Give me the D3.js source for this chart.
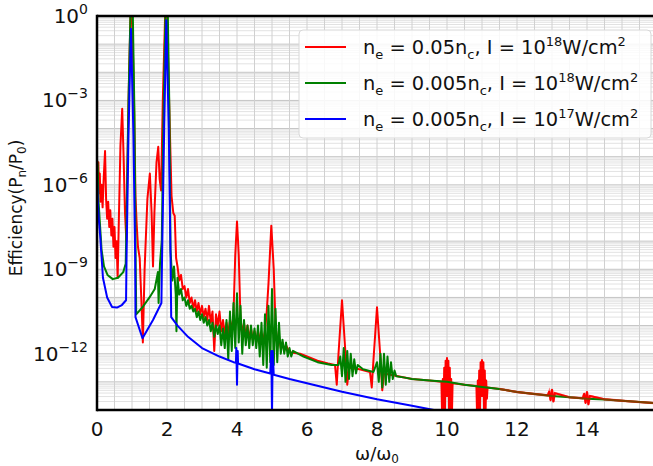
<!DOCTYPE html>
<html>
<head>
<meta charset="utf-8">
<script src="https://cdn.jsdelivr.net/npm/d3@7"></script>
<style>
  body { margin: 0; background: #fff; }
  text { font-family: "DejaVu Sans", sans-serif; fill: #111; }
</style>
</head>
<body>
<div id="chart"></div>
<script>
// x = omega/omega0, values stored as log10(P_n/P_0)
const redX = [0.00,0.02,0.04,0.06,0.08,0.10,0.13,0.16,0.19,0.23,0.26,0.29,0.32,0.35,0.38,0.41,0.44,0.47,0.50,0.53,0.56,0.59,0.62,0.67,0.72,0.76,0.80,0.84,0.86,0.91,0.96,1.00,1.05,1.10,1.13,1.17,1.22,1.28,1.31,1.36,1.44,1.51,1.56,1.60,1.64,1.70,1.75,1.79,1.83,1.88,1.95,2.00,2.06,2.13,2.18,2.22,
  2.26,2.30,2.35,2.40,2.45,2.50,2.55,2.60,2.65,2.70,2.75,2.80,2.85,2.90,2.95,3.00,3.05,3.10,3.15,3.20,3.25,3.30,3.35,3.40,3.45,3.50,3.55,3.60,3.65,3.70,3.75,3.80,3.85,3.90,3.95,4.00,4.05,
  4.10,4.15,4.20,4.25,4.30,4.35,4.40,4.45,4.50,4.55,4.60,4.65,4.70,4.75,4.80,4.85,4.90,4.98,5.05,5.10,5.15,5.20,5.25,5.30,5.35,5.40,5.50,5.80,6.00,6.30,6.60,6.80,6.85,6.90,7.00,7.10,7.15,7.20,7.50,7.80,7.85,7.90,8.00,8.10,8.15,8.20,8.60,9.00,9.50,
  9.84,9.86,9.88,9.90,9.92,9.94,9.96,9.98,10.00,10.02,10.04,10.06,10.08,10.10,10.12,10.14,10.16,10.50,
  10.84,10.86,10.88,10.90,10.92,10.94,10.96,10.98,11.00,11.02,11.04,11.06,11.08,11.10,11.12,11.14,11.16,11.50,12.00,12.50,12.88,12.92,12.96,13.00,13.04,13.08,13.50,13.88,13.92,13.96,14.00,14.04,14.08,14.50,15.00,15.50,16.00];
const redExp = [-5.5,-6.0,-5.2,-6.3,-5.6,-6.6,-6.0,-6.8,-5.8,-4.8,-6.5,-7.2,-6.6,-7.5,-6.9,-7.8,-7.2,-8.2,-7.5,-8.6,-8.0,-9.3,-7.5,-4.6,-3.3,-5.0,-7.0,-8.0,-6.0,-2.5,0.2,0.2,-2.5,-6.4,-7.3,-8.2,-8.6,-10.5,-11.6,-9.0,-6.5,-5.6,-7.0,-8.9,-7.0,-5.2,-4.65,-5.8,-6.2,-3.0,0.2,0.2,-3.0,-6.4,-7.0,-7.1,
  -8.6,-8.9,-9.4,-9.2,-9.7,-9.6,-10.0,-9.7,-10.2,-10.0,-10.4,-10.1,-10.5,-10.2,-10.6,-10.3,-10.7,-10.4,-10.8,-10.3,-10.9,-10.5,-11.9,-10.6,-11.0,-10.5,-11.2,-10.8,-11.3,-10.9,-11.3,-10.8,-11.2,-10.6,-8.5,-7.3,-8.5,
  -10.8,-11.3,-10.9,-11.4,-11.0,-11.5,-11.1,-11.5,-11.2,-11.6,-11.2,-11.5,-11.3,-11.5,-11.2,-10.5,-9.5,-7.45,-9.0,-11.0,-11.6,-11.4,-11.8,-11.6,-11.9,-11.7,-11.95,-12.0,-12.1,-12.25,-12.35,-12.4,-13.1,-12.0,-10.1,-12.0,-13.1,-12.5,-12.55,-12.65,-13.2,-12.2,-10.35,-12.2,-13.3,-12.7,-12.8,-12.9,-12.95,
  -13.0,-14.2,-12.9,-14.2,-12.5,-14.2,-12.25,-13.5,-12.15,-13.5,-12.25,-14.2,-12.5,-14.2,-12.9,-14.2,-13.05,-13.1,
  -13.15,-14.2,-12.95,-14.2,-12.6,-14.2,-12.3,-13.5,-12.22,-13.5,-12.3,-14.2,-12.6,-14.2,-12.95,-13.6,-13.2,-13.25,-13.36,-13.43,-13.48,-13.35,-13.65,-13.28,-13.7,-13.4,-13.55,-13.58,-13.42,-13.75,-13.36,-13.8,-13.5,-13.62,-13.67,-13.72,-13.76];

const greenX = [0.00,0.02,0.04,0.08,0.13,0.20,0.30,0.45,0.60,0.75,0.82,0.84,0.90,0.96,1.02,1.07,1.10,1.12,1.30,1.50,1.65,1.74,1.76,1.80,1.85,1.90,1.96,2.02,2.07,
  2.10,2.15,2.20,2.25,2.27,2.30,2.35,2.40,2.45,2.50,2.55,2.60,2.65,2.70,2.75,2.80,2.85,2.90,2.95,3.00,3.05,3.10,3.15,3.20,3.25,3.30,3.35,3.40,3.45,3.50,3.55,3.60,3.65,3.70,3.75,3.80,3.85,3.90,3.95,4.00,
  4.05,4.10,4.15,4.20,4.25,4.30,4.35,4.40,4.45,4.50,4.55,4.60,4.65,4.70,4.75,4.80,4.85,4.90,4.95,5.00,5.05,5.10,5.15,5.20,5.25,5.30,5.35,5.40,5.45,5.50,5.55,5.60,
  5.90,6.30,6.70,6.90,6.95,7.00,7.05,7.10,7.15,7.20,7.25,7.30,7.35,7.40,7.45,7.60,7.90,8.00,8.05,8.10,8.15,8.20,8.25,8.30,8.35,8.40,8.45,8.50,8.55,8.80,9.00,9.50,10.00,10.50,11.00,11.50,12.00,12.50,13.00,13.50,14.00,14.50,15.00,15.50,16.00];
const greenExp = [-5.1,-5.3,-6.5,-7.3,-8.3,-8.9,-9.2,-9.35,-9.3,-9.1,-8.8,-7.5,-3.0,0.3,0.3,-3.5,-8.0,-10.6,-10.35,-10.0,-9.7,-9.1,-10.2,-8.8,-8.0,-3.5,0.3,0.3,-3.5,
  -8.3,-9.4,-8.9,-9.9,-11.2,-9.3,-9.9,-9.7,-10.1,-10.0,-10.3,-10.1,-10.4,-10.3,-10.5,-10.4,-10.7,-10.5,-10.8,-10.6,-10.9,-10.7,-11.0,-10.8,-11.2,-10.9,-11.4,-11.0,-11.3,-11.0,-11.7,-11.1,-11.8,-10.8,-12.2,-10.5,-11.9,-10.2,-11.8,-9.85,
  -11.6,-10.3,-12.0,-10.8,-11.7,-11.0,-11.8,-11.0,-11.7,-11.1,-11.8,-11.0,-12.1,-10.9,-12.4,-10.6,-12.5,-10.3,-12.3,-9.7,-12.4,-10.4,-12.3,-10.9,-12.0,-11.5,-12.0,-11.6,-12.1,-11.8,-12.1,-11.9,
  -12.1,-12.3,-12.4,-12.4,-12.1,-12.8,-11.8,-13.0,-11.9,-12.9,-12.0,-12.8,-12.2,-12.7,-12.4,-12.55,-12.65,-12.3,-13.0,-12.0,-13.2,-12.0,-13.1,-12.1,-13.0,-12.3,-12.9,-12.6,-12.8,-12.85,-12.9,-12.95,-13.0,-13.1,-13.18,-13.25,-13.36,-13.43,-13.5,-13.55,-13.6,-13.63,-13.67,-13.72,-13.76];

const blueX = [0.00,0.02,0.05,0.09,0.17,0.29,0.43,0.57,0.71,0.83,0.845,0.90,0.97,1.04,1.09,1.10,1.30,1.60,1.84,1.86,1.92,1.98,2.05,2.10,2.12,2.30,2.60,3.00,3.50,3.90,3.97,3.98,4.00,4.02,4.03,4.50,4.95,4.98,5.00,5.02,5.05,5.50,6.00,7.00,8.00,9.00,9.70];
const blueExp = [-5.8,-6.5,-7.2,-7.8,-9.3,-10.0,-10.34,-10.36,-10.27,-10.1,-8.5,-4.2,-0.45,-4.2,-8.5,-10.7,-11.45,-10.8,-10.2,-8.5,-4.0,-0.15,-4.0,-8.5,-10.7,-11.0,-11.4,-11.8,-12.1,-12.3,-12.32,-11.8,-13.1,-11.9,-12.35,-12.55,-12.7,-11.9,-14.2,-11.9,-12.75,-12.9,-13.05,-13.35,-13.62,-13.85,-14.02];

const seriesNames = ["red", "green", "blue"];
const seriesColors = ["#ff0000", "#008000", "#0000ff"];
const xTicks = [0, 2, 4, 6, 8, 10, 12, 14];
const yTickExps = [0, -3, -6, -9, -12];

const width = 653, height = 466;
const margin = { left: 97, top: 16, bottom: 56 };
const plotRight = 657; // x = 16 sits just past the window edge

const svg = d3.select("#chart").append("svg")
  .attr("width", width).attr("height", height);

const x = d3.scaleLinear().domain([0, 16]).range([margin.left, plotRight]);
const y = d3.scaleLog().domain([1e-14, 1]).range([height - margin.bottom, margin.top]);

// grid
const grid = svg.append("g");
const yMinor = [];
for (let e = -14; e < 0; e++) {
  for (let k = 2; k <= 9; k++) yMinor.push(k * Math.pow(10, e));
}
grid.selectAll("line.ym").data(yMinor).enter().append("line")
  .attr("x1", x(0)).attr("x2", plotRight)
  .attr("y1", d => y(d)).attr("y2", d => y(d))
  .attr("stroke", "#e2e2e2").attr("stroke-width", 1);
const yMajor = d3.range(-14, 1).map(e => Math.pow(10, e));
grid.selectAll("line.yM").data(yMajor).enter().append("line")
  .attr("x1", x(0)).attr("x2", plotRight)
  .attr("y1", d => y(d)).attr("y2", d => y(d))
  .attr("stroke", "#c4c4c4").attr("stroke-width", 1);
grid.selectAll("line.xg").data(d3.range(0.5, 16, 0.5)).enter().append("line")
  .attr("x1", d => x(d)).attr("x2", d => x(d))
  .attr("y1", y(1e-14)).attr("y2", y(1))
  .attr("stroke", "#d0d0d0").attr("stroke-width", 1);

// clip
svg.append("clipPath").attr("id", "clip").append("rect")
  .attr("x", x(0)).attr("y", y(1))
  .attr("width", plotRight - x(0)).attr("height", y(1e-14) - y(1));

const line = d3.line()
  .x(d => x(d[0]))
  .y(d => y(Math.pow(10, d[1])));

const zipPts = (xs, es) => xs.map((v, i) => [v, es[i]]);
const redPts = zipPts(redX, redExp);
const greenPts = zipPts(greenX, greenExp);
const bluePts = zipPts(blueX, blueExp);

const plot = svg.append("g").attr("clip-path", "url(#clip)");
[redPts, greenPts, bluePts].forEach((pts, i) => {
  plot.append("path")
    .attr("d", line(pts))
    .attr("fill", "none")
    .attr("stroke", seriesColors[i])
    .attr("stroke-width", 2)
    .attr("stroke-linejoin", "round");
});
// where red and green sit on each other past 11.5 they blend to brown
plot.append("path")
  .attr("d", line(redPts.filter(d => d[0] >= 11.5)))
  .attr("fill", "none")
  .attr("stroke", seriesColors[0])
  .attr("stroke-opacity", 0.5)
  .attr("stroke-width", 2.4);

// frame
svg.append("line").attr("x1", x(0)).attr("x2", plotRight)
  .attr("y1", y(1)).attr("y2", y(1)).attr("stroke", "#000").attr("stroke-width", 2.5);
svg.append("line").attr("x1", x(0)).attr("x2", plotRight)
  .attr("y1", y(1e-14)).attr("y2", y(1e-14)).attr("stroke", "#000").attr("stroke-width", 2.5);
svg.append("line").attr("x1", x(0)).attr("x2", x(0))
  .attr("y1", y(1) - 1.25).attr("y2", y(1e-14) + 1.25).attr("stroke", "#000").attr("stroke-width", 2.5);

// x ticks
svg.selectAll("text.xt").data(xTicks).enter().append("text")
  .attr("x", d => x(d)).attr("y", 436)
  .attr("text-anchor", "middle").attr("font-size", 20)
  .text(d => d);

// y ticks with superscript exponents
yTickExps.forEach(e => {
  const t = svg.append("text")
    .attr("x", 88).attr("y", y(Math.pow(10, e)) + 7)
    .attr("text-anchor", "end").attr("font-size", 20);
  t.append("tspan").text("10");
  t.append("tspan").attr("dy", -9).attr("font-size", 14)
    .text(e === 0 ? "0" : "\u2212" + Math.abs(e));
});

// axis labels
const xl = svg.append("text").attr("x", 377).attr("y", 460)
  .attr("text-anchor", "middle").attr("font-size", 18);
xl.append("tspan").text("\u03c9/\u03c9");
xl.append("tspan").attr("dy", 3).attr("font-size", 12).text("0");

const yl = svg.append("text")
  .attr("transform", "translate(22,208) rotate(-90)")
  .attr("text-anchor", "middle").attr("font-size", 17);
yl.append("tspan").text("Efficiency(P");
yl.append("tspan").attr("dy", 4).attr("font-size", 12).text("n");
yl.append("tspan").attr("dy", -4).text("/P");
yl.append("tspan").attr("dy", 4).attr("font-size", 12).text("0");
yl.append("tspan").attr("dy", -4).text(")");

// legend
const legendDens = ["0.05", "0.005", "0.005"];
const legendPow = ["18", "18", "17"];
const lg = svg.append("g");
lg.append("rect").attr("x", 299).attr("y", 30).attr("width", 352).attr("height", 108)
  .attr("rx", 4).attr("fill", "#fff").attr("fill-opacity", 0.85)
  .attr("stroke", "#d8d8d8");
seriesNames.forEach((s, i) => {
  const ly = 47 + i * 36;
  lg.append("line").attr("x1", 305).attr("x2", 346).attr("y1", ly).attr("y2", ly)
    .attr("stroke", seriesColors[i]).attr("stroke-width", 2);
  const t = lg.append("text").attr("x", 363).attr("y", ly + 7).attr("font-size", 19.4);
  t.append("tspan").text("n");
  t.append("tspan").attr("dy", 5).attr("font-size", 13).text("e");
  t.append("tspan").attr("dy", -5).text(" = " + legendDens[i] + "n");
  t.append("tspan").attr("dy", 5).attr("font-size", 13).text("c");
  t.append("tspan").attr("dy", -5).text(", I = 10");
  t.append("tspan").attr("dy", -8).attr("font-size", 13).text(legendPow[i]);
  t.append("tspan").attr("dy", 8).text("W/cm");
  t.append("tspan").attr("dy", -8).attr("font-size", 13).text("2");
});
</script>
</body>
</html>
